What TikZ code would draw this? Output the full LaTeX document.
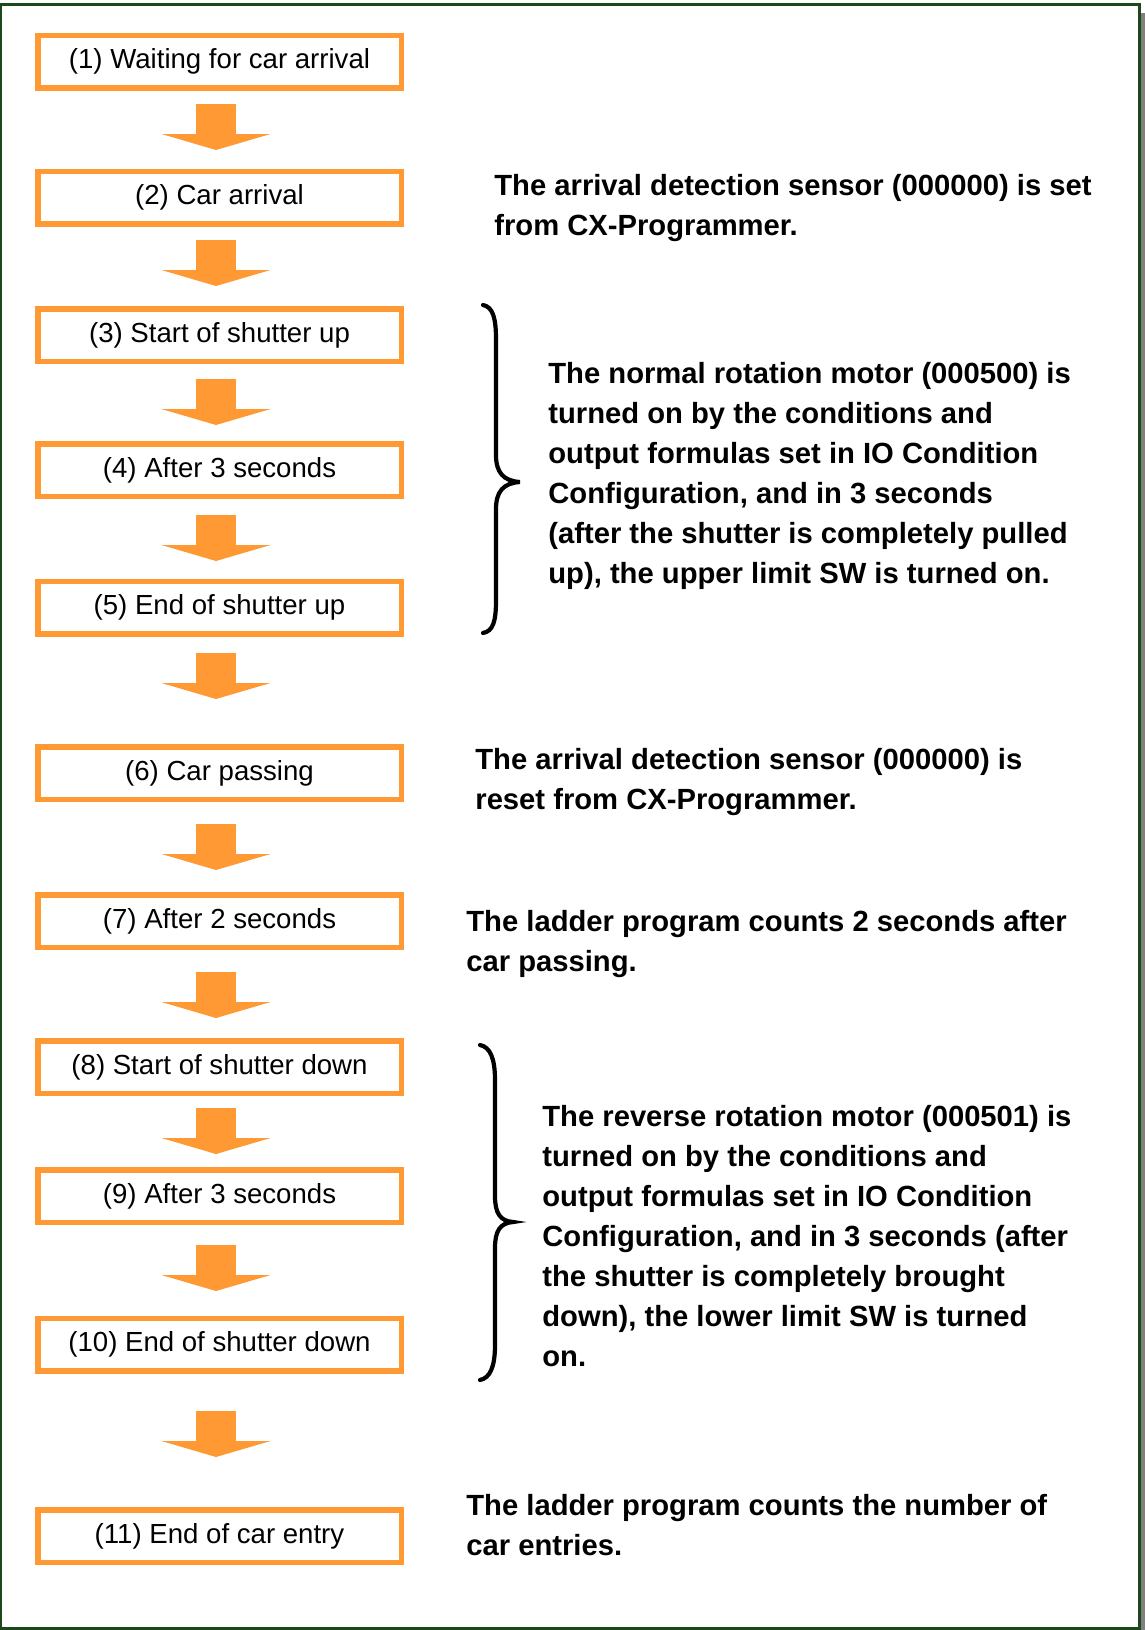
\documentclass[tikz,border=0pt]{standalone}
\usepackage{fontspec}
\setmainfont{Liberation Sans}
\usepackage{xcolor}
\definecolor{steporange}{RGB}{255,153,51}
\definecolor{framegreen}{RGB}{28,72,28}
\definecolor{shadowgray}{RGB}{128,128,128}
\usepackage{tikz}
\usetikzlibrary{arrows.meta,positioning,calc}
\tikzset{
  stepbox/.style={draw=steporange,line width=2.75pt,fill=white,%
    minimum width=181.75pt,minimum height=26.25pt,inner sep=0pt,%
    font=\fontsize{13.8}{16}\selectfont},
  note/.style={anchor=north west,inner sep=0pt,align=left,%
    font=\fontsize{14.6}{20}\selectfont\bfseries},
  flowarrow/.style={draw=steporange,line width=20pt,%
    -{Triangle[width=54.5pt,length=8pt,line width=0pt]}},
  curly/.style={draw=black,line width=2.1pt,line cap=round},
}

\begin{document}
\begin{tikzpicture}[x=0.5pt,y=-0.5pt]
\useasboundingbox (0,0) rectangle (1145,1630);
% frame with shadow
\fill[shadowgray] (7,13) rectangle (1150,1640);
\filldraw[draw=framegreen,fill=white,line width=1.25pt] (0.75,4.5) rectangle (1139.5,1628.5);

% steps
\node[stepbox] (b1)  at (219.5,61.5)  {(1) Waiting for car arrival};
\node[stepbox] (b2)  at (219.5,197.5) {(2) Car arrival};
\node[stepbox] (b3)  at (219.5,335)   {(3) Start of shutter up};
\node[stepbox] (b4)  at (219.5,470)   {(4) After 3 seconds};
\node[stepbox] (b5)  at (219.5,607.5) {(5) End of shutter up};
\node[stepbox] (b6)  at (219.5,773)   {(6) Car passing};
\node[stepbox] (b7)  at (219.5,921)   {(7) After 2 seconds};
\node[stepbox] (b8)  at (219.5,1067)  {(8) Start of shutter down};
\node[stepbox] (b9)  at (219.5,1196)  {(9) After 3 seconds};
\node[stepbox] (b10) at (219.5,1344.5) {(10) End of shutter down};
\node[stepbox] (b11) at (219.5,1536)  {(11) End of car entry};

\foreach \a/\g in {1/13.5,2/13.5,3/15,4/16,5/16.5,6/22,7/22,8/12,9/20,10/37.5}
  \draw[flowarrow] ($(b\a.south)+(-3.5,\g)$) -- ++(0,46);

% explanations
\node[note] (t2) at (494,174) {The arrival detection sensor (000000) is set\\from CX-Programmer.};
\node[note] (t35) at (548,362) {The normal rotation motor (000500) is\\turned on by the conditions and\\output formulas set in IO Condition\\Configuration, and in 3 seconds\\(after the shutter is completely pulled\\up), the upper limit SW is turned on.};
\node[note] (t6) at (475,748) {The arrival detection sensor (000000) is\\reset from CX-Programmer.};
\node[note] (t7) at (466,910) {The ladder program counts 2 seconds after\\car passing.};
\node[note] (t810) at (542,1105) {The reverse rotation motor (000501) is\\turned on by the conditions and\\output formulas set in IO Condition\\Configuration, and in 3 seconds (after\\the shutter is completely brought\\down), the lower limit SW is turned\\on.};
\node[note] (t11) at (466,1494) {The ladder program counts the number of\\car entries.};

% braces
\draw[curly] (483,305) .. controls (493,307) and (496,318) .. (496,340)
  -- (496,455) .. controls (496,472) and (503,481) .. (520,482)
  .. controls (503,483) and (496,492) .. (496,509)
  -- (496,600) .. controls (496,622) and (493,631) .. (483,633);
\draw[curly] (480,1045) .. controls (490,1047) and (495,1058) .. (495,1080)
  -- (495,1196) .. controls (495,1213) and (500,1221) .. (513,1222)
  .. controls (500,1223) and (495,1231) .. (495,1248)
  -- (495,1345) .. controls (495,1367) and (490,1378) .. (480,1380);
\end{tikzpicture}
\end{document}
